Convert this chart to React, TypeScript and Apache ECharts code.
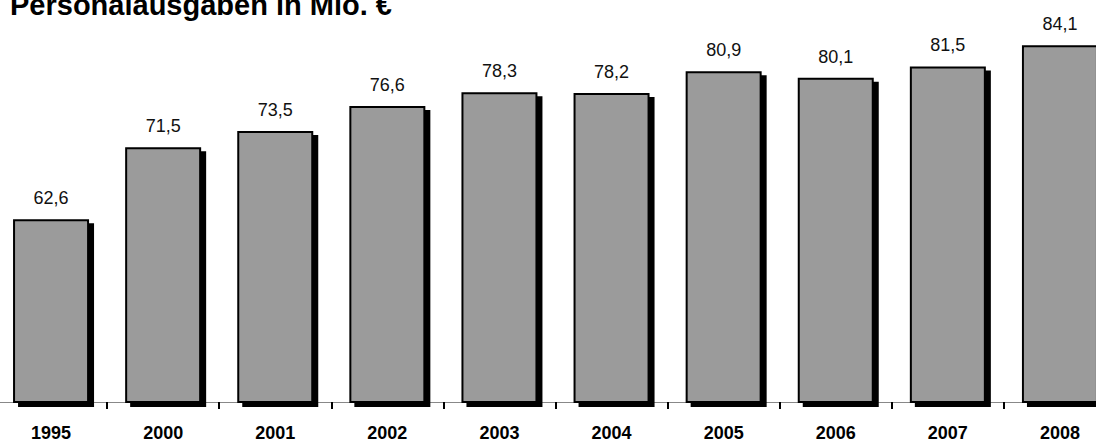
import React, { useEffect, useRef } from "react";
import * as echarts from "echarts";

const TITLE = "Personalausgaben in Mio. €";
const years = ["1995", "2000", "2001", "2002", "2003", "2004", "2005", "2006", "2007", "2008"];
const spending = [62.6, 71.5, 73.5, 76.6, 78.3, 78.2, 80.9, 80.1, 81.5, 84.1];

const OFFSET = 5;
const INNER_W = 1121;

export default function App() {
  const ref = useRef<HTMLDivElement>(null);
  useEffect(() => {
    document.body.style.margin = "0";
    const chart = echarts.init(ref.current!, null, { renderer: "svg" });
    chart.setOption({
      animation: false,
      backgroundColor: "#ffffff",
      grid: { left: 0, right: 0, top: 30, bottom: 43, containLabel: false },
      graphic: [
        {
          type: "text",
          x: 10 + OFFSET,
          y: 5,
          style: {
            text: TITLE,
            font: "bold 29px 'Liberation Sans', Arial, sans-serif",
            fill: "#000",
            verticalAlign: "middle",
            align: "left",
          },
        },
      ],
      xAxis: {
        type: "category",
        data: years,
        boundaryGap: true,
        axisLine: { show: true, lineStyle: { color: "#888", width: 1 } },
        axisTick: { show: true, length: 7, lineStyle: { color: "#000", width: 2 } },
        axisLabel: {
          margin: 22,
          color: "#000",
          fontSize: 18,
          fontWeight: "bold",
          fontFamily: "'Liberation Sans', Arial, sans-serif",
          interval: 0,
        },
      },
      yAxis: {
        type: "value",
        min: 40,
        max: 86,
        show: false,
        splitLine: { show: false },
      },
      series: [
        {
          type: "bar",
          data: spending,
          barWidth: 76,
          itemStyle: {
            color: "#9b9b9b",
            borderColor: "#000",
            borderWidth: 2,
            shadowColor: "#000",
            shadowBlur: 0,
            shadowOffsetX: 5,
            shadowOffsetY: 4,
          },
          label: {
            show: true,
            position: "top",
            distance: 12,
            color: "#111",
            fontSize: 18,
            fontFamily: "'Liberation Sans', Arial, sans-serif",
            formatter: (p: any) => String(p.value.toFixed(1)).replace(".", ","),
          },
        },
      ],
    });
    return () => chart.dispose();
  }, []);
  return (
    <div style={{ width: 1096, height: 445, overflow: "hidden", position: "relative" }}>
      <div ref={ref} style={{ position: "absolute", left: -OFFSET, top: 0, width: INNER_W, height: 445 }} />
    </div>
  );
}
